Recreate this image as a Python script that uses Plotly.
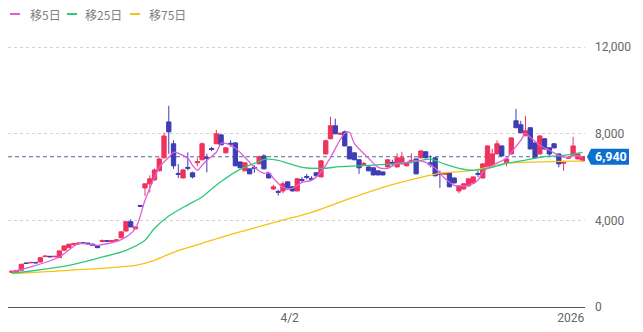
import plotly.graph_objects as go

# ---- data ----
open_ = [1600,1640,1700,2030,2040,2060,2080,2330,2340,2320,
 2280,2620,2740,2880,2910,2970,2950,2900,2820,3030,
 3060,3030,3060,3200,3510,3940,3610,4690,5500,5690,
 5870,6290,6890,8550,7540,6170,5960,6450,6200,6660,
 6800,6910,7320,7540,7950,7120,7560,7580,6700,6290,
 6380,6450,6610,6980,6150,5450,5340,5360,5780,5550,
 5360,5890,6030,5940,6200,6010,7070,7770,8370,7980,
 8090,7400,7120,6800,6590,6470,6430,6290,6240,6470,
 6680,6470,6610,6520,6730,6840,6890,7170,6660,6890,
 6170,6130,6200,5960,5360,5450,5590,5730,6170,5960,
 6430,6520,7070,7440,6660,7070,8600,8420,7910,8280,
 7580,7070,7770,7350,7540,7070,6640,6870,6980,6840,
 6750]
close = [1650,1690,1970,2010,2060,2040,2280,2350,2320,2340,
 2590,2820,2900,2920,2950,2940,2920,2850,2740,3070,
 3040,3070,3100,3470,3940,3700,3700,4650,5690,5920,
 6330,6840,7900,8090,6520,6130,6330,6410,6010,6720,
 7540,6870,7280,8000,7490,7350,7520,6520,6430,6660,
 6150,6410,6940,6380,5960,5550,5300,5690,5450,5360,
 5920,5850,5990,5900,6060,6750,7680,8370,8000,8020,
 7440,6840,6800,6430,6630,6290,6100,6100,6100,6800,
 6640,6890,6890,6660,6770,6150,7210,6890,6570,6060,
 6130,6170,5550,5730,5590,5690,5920,6010,6130,6610,
 7440,7070,7540,6980,6840,7810,8280,8050,8140,7300,
 6890,7900,7300,7070,7350,6610,6680,6910,7440,7070,
 6940]
high = [1680,1700,2000,2060,2080,2080,2300,2380,2360,2360,
 2620,2850,2930,2950,2980,3000,2980,2930,2850,3120,
 3100,3090,3130,3500,3980,4050,3720,4700,5700,6080,
 6400,6900,8050,9290,7700,6600,6380,7140,6250,6900,
 7600,7080,7400,8180,8000,7380,7700,7620,6720,6680,
 6400,6550,7000,7050,6170,5650,5420,5800,5800,5580,
 5950,6000,6150,6040,6230,6780,7720,8790,8700,8060,
 8150,7420,7140,6820,6700,6490,6450,6310,6260,6820,
 6800,7100,7170,6680,7100,6860,7230,7190,7000,6910,
 6300,6200,6220,5980,5610,5710,5940,6030,6300,6650,
 7460,7300,7700,7460,6860,7830,9150,8600,8830,8300,
 7600,7920,7790,7370,7560,7090,6750,6950,7860,7100,
 6960]
low = [1580,1620,1680,1990,2020,2020,2060,2300,2300,2300,
 2260,2600,2720,2860,2890,2900,2880,2820,2720,2980,
 3000,3010,3040,3180,3490,3680,3590,4640,5130,5290,
 5850,6270,6870,7070,6380,5960,5940,6310,5940,6500,
 6780,6220,7200,7520,7470,7100,7400,6500,6410,6270,
 6130,6200,6590,6360,5940,5400,5150,5250,5430,5340,
 5340,5780,5900,5830,6040,5990,7050,7750,7980,7950,
 7420,6820,6780,6150,6550,6270,6080,6080,6080,6450,
 6500,6450,6590,6500,6620,6130,6870,6870,6450,6040,
 5500,6100,5530,5710,5250,5430,5570,5710,6000,5940,
 6410,6500,7050,6960,6500,7050,8260,8030,7890,7280,
 6870,7050,7280,6950,7330,6450,6290,6850,6960,6820,
 6730]

ma5_idx = [0,4,10,14,18,23,26,28,30,31,33,34,35,37,38,39,40,41,43,44,45,47,49,51,53,54,55,57,59,61,
           63,65,67,70,71,72,75,77,79,81,83,85,87,89,91,93,96,98,99,101,104,105,107,108,109,111,113,115,117,118,120]
ma5 = [1617,1848,2310,2928,2850,3113,3635,4928,5991,6453,6915,7146,7099,6868,6545,6314,6545,6776,7146,7561,
       7561,7330,6915,6453,6176,6222,5945,5529,5483,5760,5852,6222,6915,8023,8070,7561,6868,6453,6407,6638,
       6684,6776,6684,6407,5945,5621,5621,5852,6222,6545,6868,7146,7700,8023,7838,7469,7238,7007,6915,7007,6915]

ma25_idx = [0,4,12,18,24,28,30,33,37,40,42,44,48,52,53,56,58,61,65,69,75,82,84,88,91,94,97,100,104,108,111,116,120]
ma25 = [1570,1663,1926,2249,2619,3081,3635,4200,4720,5080,5450,5800,6360,6720,6820,6776,6640,6453,6400,6480,6545,
        6638,6684,6830,6600,6407,6314,6400,6640,6780,6915,7007,7146]

ma75_idx = [0,12,26,30,34,40,44,50,56,63,70,78,86,90,97,104,111,120]
ma75 = [1543,1695,1926,2157,2527,2942,3219,3589,3958,4374,4928,5529,5991,6176,6314,6638,6700,6745]

legend_names = ["移5日", "移25日", "移75日"]
ma_colors = ["#dd5fdd", "#2dc97a", "#f5c215"]

x_tick_idx = [58.4, 117.5]
x_tick_text = ["4/2", "2026"]
y_ticks = [0, 4000, 8000, 12000]
last_price = close[-1]

idx = list(range(len(close)))

# ---- layout geometry ----
W, H = 643, 332
ML, MR, MT, MB = 8, 58, 25, 25
PW = W - ML - MR
PH = H - MT - MB

def px(xp):
    return (xp - ML) / PW

def py(yp):
    return (H - MB - yp) / PH

fig = go.Figure()

fig.add_trace(go.Candlestick(
    x=idx, open=open_, high=high, low=low, close=close,
    increasing=dict(line=dict(color="#f0325c", width=1), fillcolor="#f0325c"),
    decreasing=dict(line=dict(color="#3d3db4", width=1), fillcolor="#3d3db4"),
    whiskerwidth=0, showlegend=False, hoverinfo="skip",
))

for xs, ys, col in [(ma75_idx, ma75, ma_colors[2]), (ma25_idx, ma25, ma_colors[1]), (ma5_idx, ma5, ma_colors[0])]:
    fig.add_trace(go.Scatter(x=xs, y=ys, mode="lines", line=dict(color=col, width=1.3, shape="spline", smoothing=0.8),
                             showlegend=False, hoverinfo="skip"))

shapes = []
annotations = []
# manual legend
leg_line_x = [(10, 20), (67, 77), (130, 140)]
leg_text_x = [28, 83, 147]
for (a, b), tx, name, col in zip(leg_line_x, leg_text_x, legend_names, ma_colors):
    shapes.append(dict(type="line", xref="paper", yref="paper", x0=px(a), x1=px(b), y0=py(14), y1=py(14),
                       line=dict(color=col, width=2)))
    annotations.append(dict(text=name, xref="paper", yref="paper", x=px(tx), y=py(14.5), xanchor="left",
                            yanchor="middle", showarrow=False,
                            font=dict(family="Noto Sans CJK JP", size=12, color="#808080")))

# last price line and tag
shapes.append(dict(type="line", xref="paper", yref="y", x0=0, x1=1, y0=last_price, y1=last_price,
                   line=dict(color="#4d6b99", width=1, dash="4px,3px"), layer="below"))
shapes.append(dict(type="path", xref="paper", yref="y", xsizemode="pixel", ysizemode="pixel",
                   xanchor=1, yanchor=last_price,
                   path="M 2,0 L 6,-8 L 44,-8 L 44,8 L 6,8 Z",
                   fillcolor="#0a6fd0", line=dict(width=0)))
annotations.append(dict(text="<b>" + f"{last_price:,}" + "</b>", xref="paper", yref="y", x=1, y=last_price,
                        xanchor="left", yanchor="middle", xshift=8, showarrow=False,
                        font=dict(family="Roboto", size=12.5, color="white")))

fig.update_layout(
    width=W, height=H,
    margin=dict(l=ML, r=MR, t=MT, b=MB),
    paper_bgcolor="white", plot_bgcolor="white",
    shapes=shapes, annotations=annotations,
    boxgap=0.05, boxgroupgap=0.05,
    font=dict(family="Roboto", size=12, color="#666666"),
    xaxis=dict(range=[-0.8, 120.5], rangeslider=dict(visible=False), showgrid=False, zeroline=False,
               showline=True, linecolor="#555555", linewidth=1, ticks="",
               tickvals=x_tick_idx, ticktext=x_tick_text, tickfont=dict(size=12, color="#666666")),
    yaxis=dict(side="right", range=[0, 13025], tickvals=y_ticks, tickformat=",", showgrid=True,
               gridcolor="#d4d4d4", griddash="3px,3px", gridwidth=1, zeroline=False, showline=False,
               ticks="", ticklabelstandoff=9, tickfont=dict(size=12, color="#666666")),
    showlegend=False,
)

fig.write_html("out.html")
